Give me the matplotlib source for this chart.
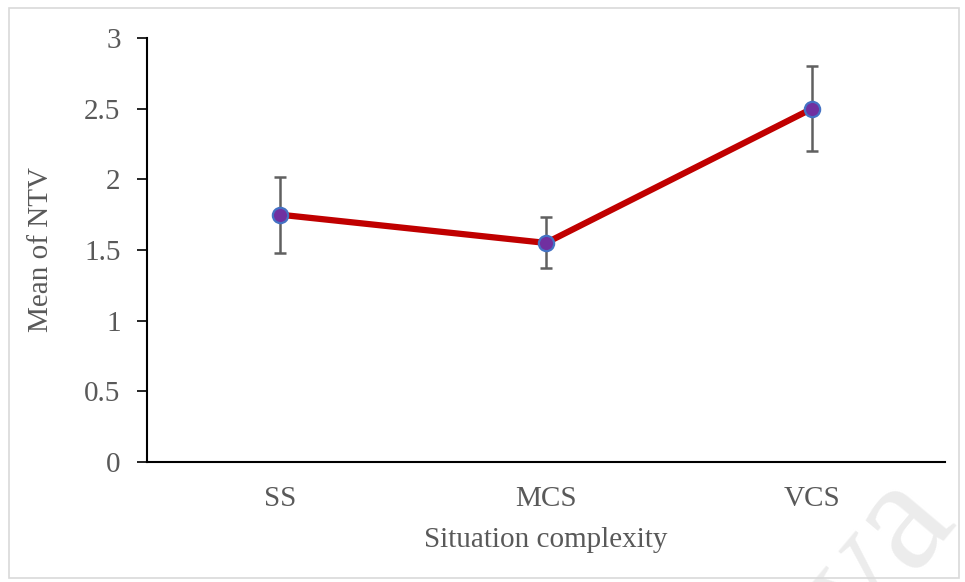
import matplotlib
matplotlib.use('Agg')
from matplotlib import pyplot as plt
from matplotlib.patches import Rectangle

categories = ['SS', 'MCS', 'VCS']
means = [1.75, 1.55, 2.5]
errors = [0.27, 0.18, 0.30]
yticks = [0, 0.5, 1, 1.5, 2, 2.5, 3]
ytick_labels = ['0', '0.5', '1', '1.5', '2', '2.5', '3']

plt.rcParams['font.family'] = ['Liberation Serif', 'DejaVu Serif']

fig = plt.figure(figsize=(9.65, 5.82), dpi=100)
ax = fig.add_axes([0.1523, 0.2062, 0.827, 0.7285])

x = list(range(len(categories)))
ax.errorbar(x, means, yerr=errors, fmt='none', ecolor='#606060',
            elinewidth=1.8, capsize=4.5, capthick=1.8, zorder=2)
ax.plot(x, means, color='#C00000', linewidth=4.5, zorder=3)
ax.plot(x, means, 'o', markersize=11, markerfacecolor='#7030A0',
        markeredgecolor='#4472C4', markeredgewidth=1.6, zorder=4)

ax.set_xlim(-0.5, 2.5)
ax.set_ylim(0, 3)
ax.set_xticks(x)
ax.set_xticklabels(categories)
ax.set_yticks(yticks)
ax.set_yticklabels(ytick_labels)

for s in ['top', 'right']:
    ax.spines[s].set_visible(False)
for s in ['left', 'bottom']:
    ax.spines[s].set_linewidth(1.5)
    ax.spines[s].set_color('black')

ax.tick_params(axis='y', length=7, width=1.2, pad=12, labelsize=21,
               labelcolor='#595959', color='black')
ax.tick_params(axis='x', length=0, pad=17, labelsize=21, labelcolor='#595959')

ax.set_xlabel('Situation complexity', fontsize=21, color='#595959', labelpad=11)
ax.set_ylabel('Mean of NTV', fontsize=21, color='#595959', labelpad=22)

# faint watermark and outer frame
fig.text(0.912, 0.045, 'va', fontsize=115, color='#ececec', rotation=50,
         ha='center', va='center', zorder=0)
fig.patches.append(Rectangle((0.009, 0.007), 0.985, 0.979, transform=fig.transFigure,
                             fill=False, edgecolor='#d9d9d9', linewidth=1.2))

fig.savefig('out.png', dpi=100)
